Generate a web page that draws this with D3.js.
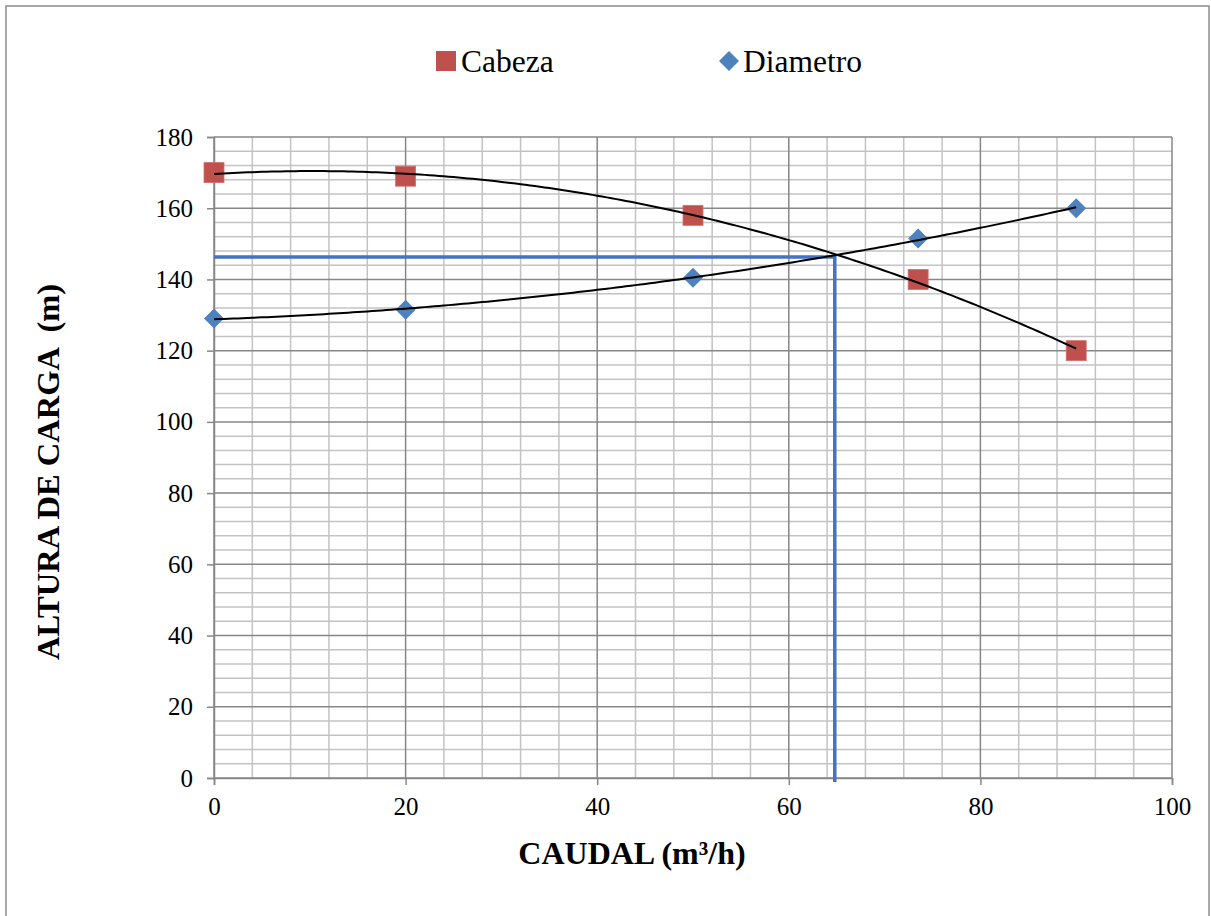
<!DOCTYPE html>
<html>
<head>
<meta charset="utf-8">
<script src="https://cdn.jsdelivr.net/npm/d3@7"></script>
<style>
  html, body { margin: 0; padding: 0; background: #fff; }
  svg { display: block; }
  text { font-family: "Liberation Serif", "Times New Roman", serif; fill: #000; white-space: pre; }
</style>
</head>
<body>
<svg id="chart" width="1211" height="916"></svg>
<script>
// ---- data ----
const caudal = [0, 20, 50, 73.5, 90];
const cabeza = [170, 169, 158, 140, 120];
const diametro = [129, 131.5, 140.5, 151.5, 160];
const xTicks = [0, 20, 40, 60, 80, 100];
const yTicks = [0, 20, 40, 60, 80, 100, 120, 140, 160, 180];
const operatingPoint = { q: 64.8, h: 146.3 };
const seriesNames = ["Cabeza", "Diametro"];
const xTitle = "CAUDAL (m³/h)";
const yTitle = "ALTURA DE CARGA  (m)";

(function () {
// ---- layout ----
const svg = d3.select("#chart");
const pLeft = 214, pRight = 1172, pTop = 137, pBottom = 778;
const x = d3.scaleLinear().domain([0, 100]).range([pLeft, pRight]);
const y = d3.scaleLinear().domain([0, 180]).range([pBottom, pTop]);

// chart border
svg.append("rect").attr("x", 6).attr("y", 6).attr("width", 1203).attr("height", 930)
  .attr("fill", "#fff").attr("stroke", "#8c8c8c").attr("stroke-width", 1.5);

// minor grid (every 4 units)
const minorX = d3.range(0, 101, 4).filter(v => v % 20 !== 0);
const minorY = d3.range(0, 181, 4).filter(v => v % 20 !== 0);
const grid = svg.append("g");
grid.selectAll(".mx").data(minorX).join("line")
  .attr("x1", d => x(d)).attr("x2", d => x(d)).attr("y1", pTop).attr("y2", pBottom)
  .attr("stroke", "#c3c3c3").attr("stroke-width", 1.5);
grid.selectAll(".my").data(minorY).join("line")
  .attr("x1", pLeft).attr("x2", pRight).attr("y1", d => y(d)).attr("y2", d => y(d))
  .attr("stroke", "#c3c3c3").attr("stroke-width", 1.5);
// major grid
grid.selectAll(".Mx").data(xTicks).join("line")
  .attr("x1", d => x(d)).attr("x2", d => x(d)).attr("y1", pTop).attr("y2", pBottom)
  .attr("stroke", "#878787").attr("stroke-width", 1.5);
grid.selectAll(".My").data(yTicks).join("line")
  .attr("x1", pLeft).attr("x2", pRight).attr("y1", d => y(d)).attr("y2", d => y(d))
  .attr("stroke", "#878787").attr("stroke-width", 1.5);

// axes
const xAxis = svg.append("g").attr("transform", `translate(0,${pBottom})`)
  .call(d3.axisBottom(x).tickValues(xTicks).tickSize(7).tickPadding(12).tickFormat(d3.format("d")));
const yAxis = svg.append("g").attr("transform", `translate(${pLeft},0)`)
  .call(d3.axisLeft(y).tickValues(yTicks).tickSize(7).tickPadding(14).tickFormat(d3.format("d")));
[xAxis, yAxis].forEach(a => {
  a.attr("font-family", '"Liberation Serif", serif');
  a.select(".domain").attr("stroke", "#878787").attr("stroke-width", 1.5);
  a.selectAll(".tick line").attr("stroke", "#878787").attr("stroke-width", 1.5);
  a.selectAll(".tick text").style("font-family", '"Liberation Serif", serif')
    .style("font-size", "25px").attr("fill", "#000");
});

// operating point lines
svg.append("path")
  .attr("d", `M${x(0)},${y(operatingPoint.h)} H${x(operatingPoint.q)} V${pBottom + 4}`)
  .attr("fill", "none").attr("stroke", "#4472c4").attr("stroke-width", 3.5);

// markers
const pts = caudal.map((q, i) => ({ q, c: cabeza[i], d: diametro[i] }));
svg.append("g").selectAll("rect").data(pts).join("rect")
  .attr("x", d => x(d.q) - 10).attr("y", d => y(d.c) - 10)
  .attr("width", 20).attr("height", 20)
  .attr("fill", "#c0504d").attr("stroke", "#d0706d").attr("stroke-width", 0.8);
svg.append("g").selectAll("path").data(pts).join("path")
  .attr("d", d3.symbol().type(d3.symbolSquare).size(200))
  .attr("transform", d => `translate(${x(d.q)},${y(d.d)}) rotate(45)`)
  .attr("fill", "#4f81bd");

// polynomial (order 2) least-squares trendlines
function polyfit2(xs, ys) {
  const S = k => d3.sum(xs, v => Math.pow(v, k));
  const T = k => d3.sum(xs.map((v, i) => Math.pow(v, k) * ys[i]));
  const A = [[S(0), S(1), S(2)], [S(1), S(2), S(3)], [S(2), S(3), S(4)]];
  const b = [T(0), T(1), T(2)];
  for (let i = 0; i < 3; i++) {
    for (let j = i + 1; j < 3; j++) {
      const f = A[j][i] / A[i][i];
      for (let k = i; k < 3; k++) A[j][k] -= f * A[i][k];
      b[j] -= f * b[i];
    }
  }
  const c = [0, 0, 0];
  for (let i = 2; i >= 0; i--) {
    let s = b[i];
    for (let k = i + 1; k < 3; k++) s -= A[i][k] * c[k];
    c[i] = s / A[i][i];
  }
  return v => c[0] + c[1] * v + c[2] * v * v;
}
const fitC = polyfit2(caudal, cabeza);
const fitD = polyfit2(caudal, diametro);
const qs = d3.range(0, 90.01, 0.5);
const line = d3.line().x(d => x(d[0])).y(d => y(d[1]));
[fitC, fitD].forEach(f => {
  svg.append("path").attr("d", line(qs.map(q => [q, f(q)])))
    .attr("fill", "none").attr("stroke", "#000").attr("stroke-width", 2);
});

// legend
svg.append("rect").attr("x", 436).attr("y", 51).attr("width", 20).attr("height", 20)
  .attr("fill", "#c0504d");
svg.append("text").attr("x", 461).attr("y", 72).style("font-size", "31.5px").text(seriesNames[0]);
svg.append("path").attr("transform", "translate(729,61) rotate(45)")
  .attr("d", d3.symbol().type(d3.symbolSquare).size(200)).attr("fill", "#4f81bd");
svg.append("text").attr("x", 743).attr("y", 72).style("font-size", "31.5px").text(seriesNames[1]);

// axis titles
svg.append("text").attr("x", 632).attr("y", 864).attr("text-anchor", "middle")
  .style("font-size", "32px").style("font-weight", "bold").text(xTitle);
svg.append("text").attr("transform", "translate(59,472) rotate(-90)").attr("text-anchor", "middle")
  .attr("xml:space", "preserve")
  .style("font-size", "32.5px").style("font-weight", "bold").text(yTitle);
})();
</script>
</body>
</html>
